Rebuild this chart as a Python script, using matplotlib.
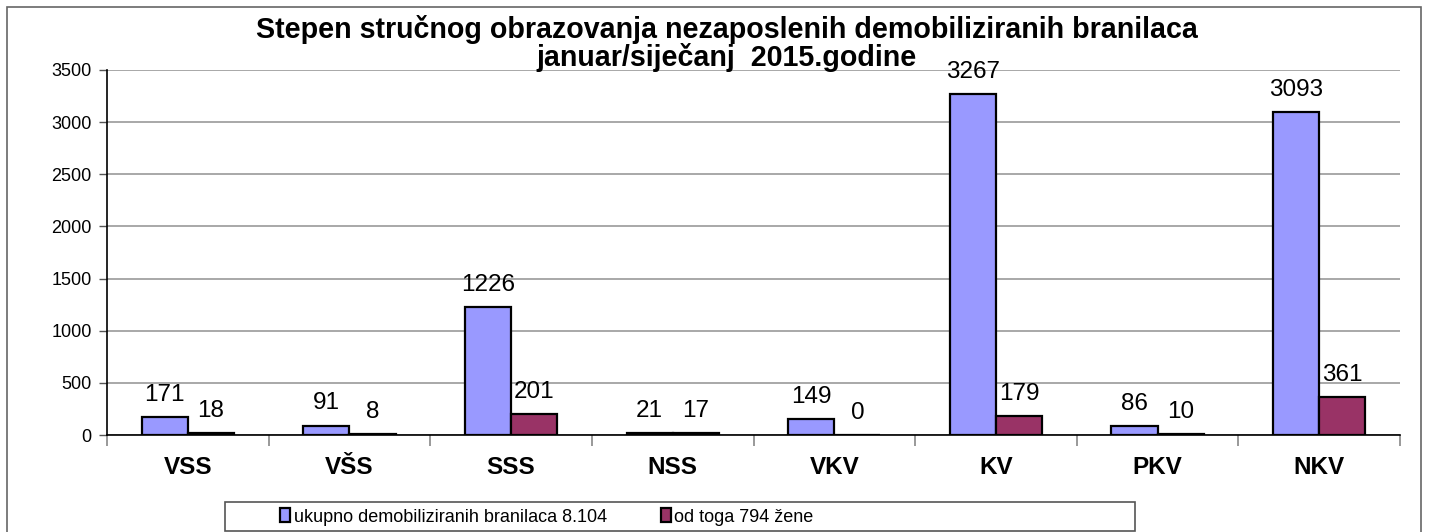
import numpy as np
import matplotlib.pyplot as plt
from matplotlib.patches import Rectangle

# podaci
kategorije = ['VSS', 'VŠS', 'SSS', 'NSS', 'VKV', 'KV', 'PKV', 'NKV']
ukupno = [171, 91, 1226, 21, 149, 3267, 86, 3093]
zene = [18, 8, 201, 17, 0, 179, 10, 361]
naziv_ukupno = 'ukupno demobiliziranih branilaca 8.104'
naziv_zene = 'od toga 794 žene'

plt.rcParams['font.family'] = ['Liberation Sans', 'DejaVu Sans']

W, H = 1430, 532
fig = plt.figure(figsize=(W / 100, H / 100), dpi=100)
ax = fig.add_axes([107 / W, 1 - 435 / H, (1400 - 107) / W, (435 - 70) / H])

# okvir oko cijele slike
fig.patches.append(Rectangle((7 / W, -2 / H), 1414 / W, 527 / H,
                             transform=fig.transFigure, fill=False,
                             edgecolor='#666666', lw=1.2))

x = np.arange(len(kategorije))
w = 0.285
b1 = ax.bar(x - w / 2, ukupno, w, color='#9999FF', edgecolor='black', lw=1.6,
            label=naziv_ukupno, zorder=3)
b2 = ax.bar(x + w / 2, zene, w, color='#993366', edgecolor='black', lw=1.6,
            label=naziv_zene, zorder=3)

for xi, v in zip(x, ukupno):
    ax.annotate(str(v), (xi - w / 2, v), xytext=(0, 8), textcoords='offset points',
                ha='center', va='bottom', fontsize=17.5)
for xi, v in zip(x, zene):
    ax.annotate(str(v), (xi + w / 2, v), xytext=(0, 8), textcoords='offset points',
                ha='center', va='bottom', fontsize=17.5)

ax.set_xlim(-0.5, len(kategorije) - 0.5)
ax.set_ylim(0, 3500)
ax.set_yticks(range(0, 3501, 500))
ax.yaxis.grid(True, color='#999999', lw=1.2, zorder=0)
ax.tick_params(axis='y', labelsize=13, length=6, width=1, color='#555555', pad=5)

ax.set_xticks(x)
ax.set_xticklabels(kategorije, fontsize=17.5, fontweight='bold')
ax.tick_params(axis='x', length=0, pad=15)
ax.set_xticks(np.arange(-0.5, len(kategorije)), minor=True)
ax.tick_params(axis='x', which='minor', length=8, width=1.2, color='#888888')

ax.spines['top'].set_visible(False)
ax.spines['right'].set_visible(False)
ax.spines['left'].set_color('black')
ax.spines['bottom'].set_color('black')
ax.spines['left'].set_linewidth(1.2)
ax.spines['bottom'].set_linewidth(1.2)

fig.text(727 / W, 1 - 30 / H, 'Stepen stručnog obrazovanja nezaposlenih demobiliziranih branilaca',
         ha='center', va='center', fontsize=20.6, fontweight='bold')
fig.text(727 / W, 1 - 58 / H, 'januar/siječanj  2015.godine',
         ha='center', va='center', fontsize=20.6, fontweight='bold')

# okvir legende
fig.patches.append(Rectangle((225 / W, 1 - 531 / H), 910 / W, 29 / H,
                             transform=fig.transFigure, fill=False,
                             edgecolor='#555555', lw=1.2))
leg = fig.legend(handles=[b1, b2], loc='center left', bbox_to_anchor=(280 / W, 1 - 517 / H),
                 ncol=2, frameon=False, handlelength=0.55, handleheight=0.8,
                 handletextpad=0.2, columnspacing=3.0, borderpad=0, borderaxespad=0,
                 fontsize=13)

fig.savefig('out.png', dpi=100)
